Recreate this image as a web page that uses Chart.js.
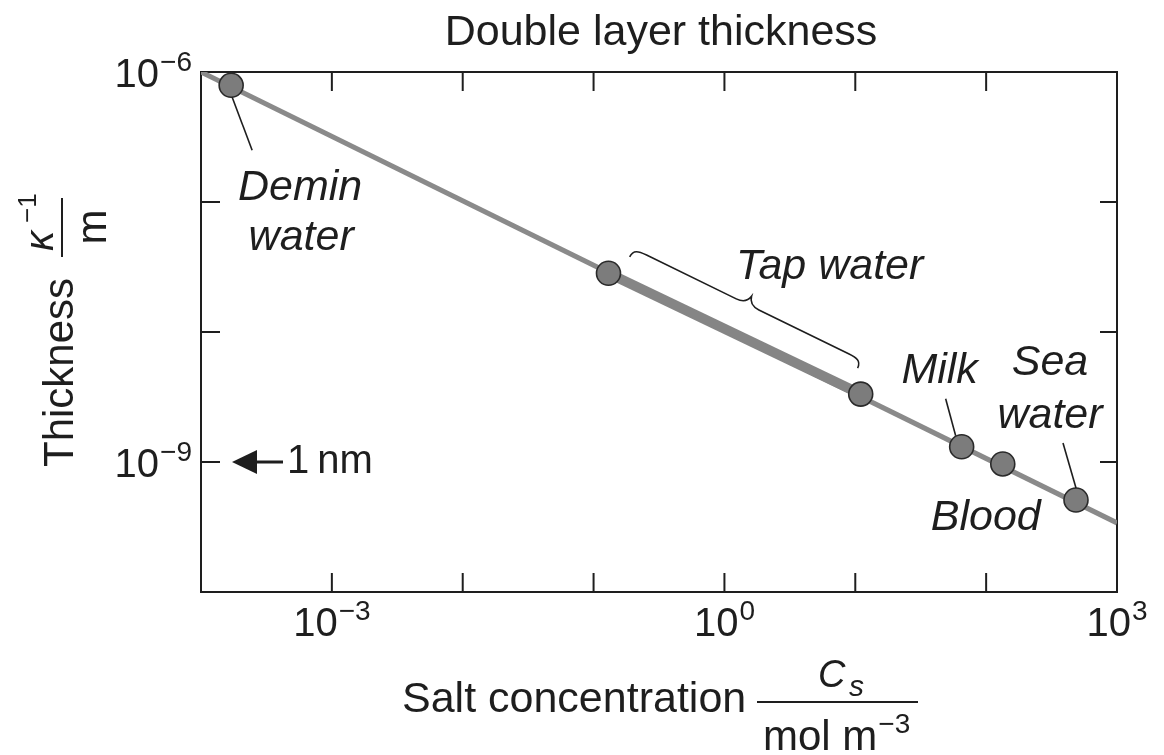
<!DOCTYPE html>
<html>
<head>
<meta charset="utf-8">
<title>Double layer thickness</title>
<script src="https://cdn.jsdelivr.net/npm/chart.js@4/dist/chart.umd.min.js"></script>
<style>
  html, body { margin: 0; padding: 0; background: #fff; }
  #chart { display: block; }
</style>
</head>
<body>
<canvas id="chart" width="1164" height="755"></canvas>
<script>
'use strict';

// Debye line: salt concentration (mol m^-3) against thickness (m)
const debyeConc = [1e-4, 1e3];
const debyeThickness = [1.0e-6, 3.4e-10];

// typical liquids
const sampleNames = ['Demin water', 'Tap water (soft)', 'Tap water (hard)', 'Milk', 'Blood', 'Sea water'];
const sampleConc = [1.7e-4, 0.13, 11, 65, 134, 486];
const sampleThickness = [7.9e-7, 2.83e-8, 3.33e-9, 1.31e-9, 9.66e-10, 5.1e-10];

// range covered by tap water, drawn as a heavier band on the line
const tapConc = [0.13, 11];
const tapThickness = [2.83e-8, 3.33e-9];

// decades that get a tick, and those that get a label
const xTickExponents = [-3, -2, -1, 0, 1, 2];
const xLabelExponents = [-3, 0, 3];
const yTickExponents = [-9, -8, -7];
const yLabelExponents = [-6, -9];

const oneNm = 1e-9;

const FONT = '"Liberation Sans", Arial, Helvetica, sans-serif';
const INK = '#1e1e1e';

function font (size, italic)
{
    return (italic ? 'italic ' : '') + size + 'px ' + FONT;
}

function points (xs, ys)
{
    return xs.map((x, i) => ({x, y: ys[i]}));
}

function minus (n)
{
    return n < 0 ? '\u2212' + (-n) : String(n);
}

// "10" with a raised exponent
function powerLabel (ctx, exp, x, y, align)
{
    ctx.font = font(40);
    const wb = ctx.measureText('10').width;
    ctx.font = font(28);
    const es = minus(exp);
    const we = ctx.measureText(es).width;
    const total = wb + 1 + we;
    let x0 = x;
    if (align === 'center') x0 = x - total / 2;
    if (align === 'right') x0 = x - total;
    ctx.textAlign = 'left';
    ctx.font = font(40);
    ctx.fillText('10', x0, y);
    ctx.font = font(28);
    ctx.fillText(es, x0 + wb + 1, y - 16);
}

function line (ctx, x1, y1, x2, y2)
{
    ctx.beginPath();
    ctx.moveTo(x1, y1);
    ctx.lineTo(x2, y2);
    ctx.stroke();
}

function centred (ctx, text, x, y, italic)
{
    ctx.font = font(43, italic);
    ctx.textAlign = 'center';
    ctx.fillText(text, x, y);
}

// curly brace between two points, bulging to the left of the direction p -> q
function brace (ctx, p, q, h)
{
    const dx = q.x - p.x, dy = q.y - p.y;
    const L = Math.hypot(dx, dy);
    ctx.save();
    ctx.translate(p.x, p.y);
    ctx.rotate(Math.atan2(dy, dx));
    const m = L / 2;
    ctx.beginPath();
    ctx.moveTo(0, 0);
    ctx.bezierCurveTo(0, -h * 0.9, h * 0.6, -h, h * 1.6, -h);
    ctx.lineTo(m - h * 1.4, -h);
    ctx.quadraticCurveTo(m - h * 0.2, -h, m, -2 * h);
    ctx.quadraticCurveTo(m + h * 0.2, -h, m + h * 1.4, -h);
    ctx.lineTo(L - h * 1.6, -h);
    ctx.bezierCurveTo(L - h * 0.6, -h, L, -h * 0.9, L, 0);
    ctx.stroke();
    ctx.restore();
}

const frame = {
    id: 'frame',
    beforeDatasetsDraw (chart)
    {
        const {ctx, chartArea: {left, right, top, bottom}} = chart;
        const xs = chart.scales.x, ys = chart.scales.y;
        ctx.save();
        ctx.strokeStyle = INK;
        ctx.lineWidth = 2;
        ctx.strokeRect(left, top, right - left, bottom - top);
        for (const e of xTickExponents)
        {
            const px = xs.getPixelForValue(Math.pow(10, e));
            line(ctx, px, bottom, px, bottom - 19);
            line(ctx, px, top, px, top + 19);
        }
        for (const e of yTickExponents)
        {
            const py = ys.getPixelForValue(Math.pow(10, e));
            line(ctx, left, py, left + 19, py);
            line(ctx, right, py, right - 17, py);
        }
        ctx.restore();
    },
    afterDatasetsDraw (chart)
    {
        const {ctx, chartArea: {left, bottom}} = chart;
        const xs = chart.scales.x, ys = chart.scales.y;
        const px = (i) => ({x: xs.getPixelForValue(sampleConc[i]), y: ys.getPixelForValue(sampleThickness[i])});

        ctx.save();
        ctx.fillStyle = INK;
        ctx.strokeStyle = INK;
        ctx.textBaseline = 'alphabetic';

        // tick labels
        for (const e of xLabelExponents)
            powerLabel(ctx, e, xs.getPixelForValue(Math.pow(10, e)), bottom + 44, 'center');
        for (const e of yLabelExponents)
            powerLabel(ctx, e, left - 9, ys.getPixelForValue(Math.pow(10, e)) + 15, 'right');

        // title
        centred(ctx, 'Double layer thickness', 661, 45, false);

        // x axis title with unit fraction
        ctx.textAlign = 'left';
        ctx.font = font(43);
        ctx.fillText('Salt concentration', 402, 712);
        ctx.fillRect(757, 701, 161, 2);
        ctx.font = font(38, true);
        ctx.fillText('C', 818, 687);
        ctx.font = font(30, true);
        ctx.fillText('s', 849, 696);
        ctx.font = font(42);
        ctx.fillText('mol m', 763, 750);
        const wm = ctx.measureText('mol m').width;
        ctx.font = font(28);
        ctx.fillText('\u22123', 763 + wm + 1, 733);

        // y axis title, rotated
        ctx.save();
        ctx.translate(73, 467);
        ctx.rotate(-Math.PI / 2);
        ctx.textAlign = 'left';
        ctx.font = font(42);
        ctx.fillText('Thickness', 0, 0);
        ctx.fillRect(210, -12, 59, 2);
        ctx.font = font(40, true);
        ctx.fillText('\u03ba', 216, -20);
        ctx.font = font(26);
        ctx.fillText('\u22121', 244, -37);
        ctx.font = font(42);
        ctx.textAlign = 'center';
        ctx.fillText('m', 240, 33);
        ctx.restore();

        // 1 nm marker
        const yn = ys.getPixelForValue(oneNm);
        ctx.beginPath();
        ctx.moveTo(left + 31, yn);
        ctx.lineTo(left + 56, yn - 12);
        ctx.lineTo(left + 56, yn + 12);
        ctx.closePath();
        ctx.fill();
        ctx.fillRect(left + 54, yn - 1.5, 28, 3);
        ctx.textAlign = 'left';
        ctx.font = font(40);
        ctx.fillText('1\u2009nm', left + 86, yn + 11);

        // sample labels and leaders
        ctx.lineWidth = 1.6;
        const demin = px(0), tapLo = px(1), tapHi = px(2), milk = px(3), blood = px(4), sea = px(5);

        line(ctx, demin.x + 1, demin.y + 12, demin.x + 21, demin.y + 65);
        centred(ctx, 'Demin', demin.x + 69, demin.y + 115, true);
        centred(ctx, 'water', demin.x + 70, demin.y + 165, true);

        const ang = Math.atan2(tapHi.y - tapLo.y, tapHi.x - tapLo.x);
        const ux = Math.cos(ang), uy = Math.sin(ang);
        const nx = uy, ny = -ux;
        const a = {x: tapLo.x + ux * 12 + nx * 24, y: tapLo.y + uy * 12 + ny * 24};
        const b = {x: tapHi.x - ux * 14 + nx * 22, y: tapHi.y - uy * 14 + ny * 22};
        brace(ctx, a, b, 9);
        centred(ctx, 'Tap water', tapHi.x - 31, tapHi.y - 115, true);

        line(ctx, milk.x - 16, milk.y - 48, milk.x - 6, milk.y - 11);
        centred(ctx, 'Milk', milk.x - 22, milk.y - 64, true);

        centred(ctx, 'Blood', blood.x - 17, blood.y + 66, true);

        line(ctx, sea.x - 13, sea.y - 57, sea.x, sea.y - 12);
        centred(ctx, 'Sea', sea.x - 26, sea.y - 125, true);
        centred(ctx, 'water', sea.x - 26, sea.y - 72, true);

        ctx.restore();
    }
};

new Chart(document.getElementById('chart'), {
    type: 'scatter',
    data: {
        datasets: [
            {
                label: 'Debye length',
                data: points(debyeConc, debyeThickness),
                showLine: true,
                borderColor: '#8a8a8a',
                borderWidth: 5,
                pointRadius: 0,
                order: 3
            },
            {
                label: 'Tap water',
                data: points(tapConc, tapThickness),
                showLine: true,
                borderColor: '#858585',
                borderWidth: 10,
                pointRadius: 0,
                order: 2
            },
            {
                label: 'Samples',
                data: points(sampleConc, sampleThickness),
                showLine: false,
                backgroundColor: '#7c7c7c',
                borderColor: '#2a2a2a',
                borderWidth: 1.6,
                pointRadius: 12,
                order: 1
            }
        ]
    },
    options: {
        responsive: false,
        animation: false,
        devicePixelRatio: 1,
        layout: {padding: {left: 201, right: 47, top: 72, bottom: 163}},
        scales: {
            x: {type: 'logarithmic', min: 1e-4, max: 1e3, display: false},
            y: {type: 'logarithmic', min: 1e-10, max: 1e-6, display: false}
        },
        plugins: {
            legend: {display: false},
            tooltip: {enabled: false}
        }
    },
    plugins: [frame]
});
</script>
</body>
</html>
